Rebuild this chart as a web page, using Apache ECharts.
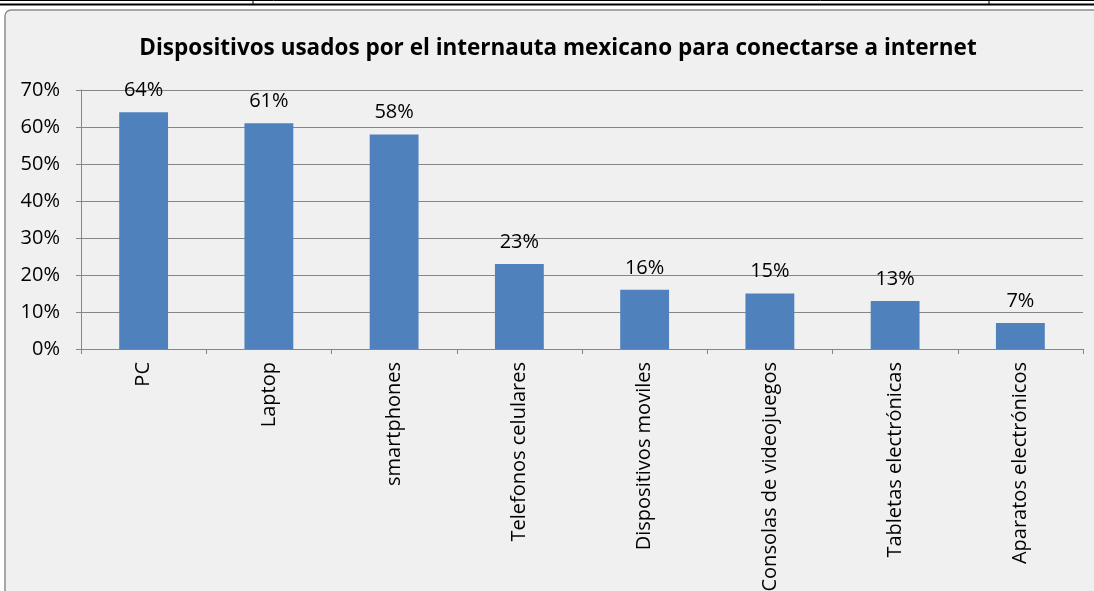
<!DOCTYPE html>
<html><head><meta charset="utf-8">
<script src="https://cdn.jsdelivr.net/npm/echarts@6/dist/echarts.min.js"></script>
<style>html,body{margin:0;padding:0;background:#fff}#c{width:1094px;height:591px}</style>
</head><body><div id="c"></div>
<script>
const titleText = 'Dispositivos usados por el internauta mexicano para conectarse a internet';
const categories = ['PC','Laptop','smartphones','Telefonos celulares','Dispositivos moviles','Consolas de videojuegos','Tabletas electrónicas','Aparatos electrónicos'];
const values = [64,61,58,23,16,15,13,7];
const yTicks = [0,10,20,30,40,50,60,70];

const FONT = 'Open Sans';
const chart = echarts.init(document.getElementById('c'), null, {renderer:'canvas'});
chart.setOption({
  backgroundColor:'#ffffff',
  animation:false,
  textStyle:{fontFamily:FONT},
  graphic:[
    {type:'rect', z:-100, silent:true, shape:{x:5,y:10,width:1100,height:600,r:6}, style:{fill:'#f0f0f0',stroke:'#8c8c8c',lineWidth:1.5}},
    {type:'line', z:100, shape:{x1:0,y1:0.5,x2:1094,y2:0.5}, style:{stroke:'#000',lineWidth:1}},
    {type:'line', z:100, shape:{x1:0,y1:4.5,x2:1094,y2:4.5}, style:{stroke:'#000',lineWidth:2}},
    {type:'line', z:100, shape:{x1:253,y1:0,x2:253,y2:5}, style:{stroke:'#000',lineWidth:1}},
    {type:'line', z:100, shape:{x1:989,y1:0,x2:989,y2:5}, style:{stroke:'#000',lineWidth:1}}
  ],
  title:{text:titleText, left:553, textAlign:'center', top:32,
    textStyle:{fontFamily:FONT, fontWeight:'bold', fontSize:22.5, color:'#000'}},
  grid:{left:81, right:11, top:90, bottom:242, containLabel:false, outerBoundsMode:'none'},
  xAxis:{type:'category', data:categories, boundaryGap:true,
    axisLine:{lineStyle:{color:'#868686',width:1}},
    axisTick:{show:true, length:5, lineStyle:{color:'#868686'}},
    axisLabel:{rotate:90, interval:0, margin:13, color:'#000', fontSize:20, fontFamily:FONT}},
  yAxis:{type:'value', min:0, max:70, interval:10,
    axisLine:{show:true, lineStyle:{color:'#868686',width:1}},
    axisTick:{show:true, length:5, lineStyle:{color:'#868686'}},
    splitLine:{show:true, lineStyle:{color:'#868686',width:1}},
    axisLabel:{formatter: v => yTicks.includes(v) ? v + '%' : '', margin:21, color:'#000', fontSize:20, fontFamily:FONT}},
  series:[{type:'bar', data:values, barWidth:'39%',
    itemStyle:{color:'#4f81bd'},
    label:{show:true, position:'top', distance:12, formatter: p => p.value + '%', color:'#000', fontSize:20, fontFamily:FONT}}]
});
</script></body></html>
